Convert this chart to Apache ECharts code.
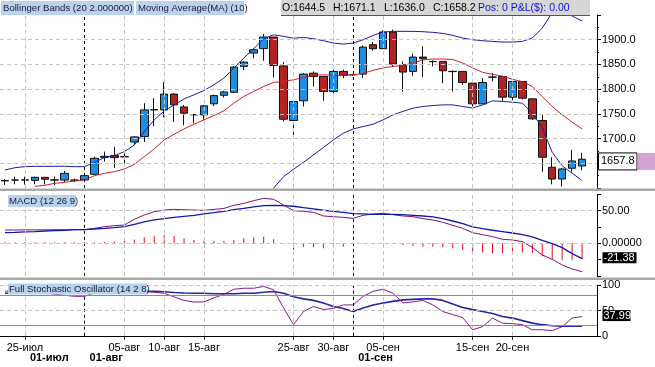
<!DOCTYPE html>
<html><head><meta charset="utf-8">
<script src="https://cdn.jsdelivr.net/npm/echarts@6/dist/echarts.min.js"></script>
<style>html,body{margin:0;padding:0;background:#fff}#c{width:655px;height:367px}</style>
</head><body><div id="c"></div>
<script>
// ---------- data ----------
const dates = ['22-июл','24-июл','25-июл','26-июл','27-июл','28-июл','29-июл','31-июл',
 '01-авг','02-авг','03-авг','04-авг','05-авг','07-авг','08-авг','09-авг','10-авг','11-авг','12-авг',
 '14-авг','15-авг','16-авг','17-авг','18-авг','19-авг','21-авг','22-авг','23-авг','24-авг','25-авг','26-авг',
 '28-авг','29-авг','30-авг','31-авг','01-сен','02-сен','04-сен','05-сен','06-сен','07-сен','08-сен','09-сен',
 '11-сен','12-сен','13-сен','14-сен','15-сен','16-сен','18-сен','19-сен','20-сен','21-сен','22-сен','23-сен',
 '25-сен','26-сен','27-сен','28-сен','29-сен'];
const tickLabels = ['25-июл','05-авг','10-авг','15-авг','25-авг','30-авг','05-сен','15-сен','20-сен'];
const monthAt = ['25-июл','01-авг','01-сен'];
const monthText = ['01-июл','01-авг','01-сен'];
const monthLines = ['01-авг','01-сен'];

const opens = [1615,1616,1616,1615.5,1621.6,1616.5,1616,1616,1616.2,1627.7,
 1662,1665.5,1663,1693,1704,1758,1758,1790,1764,1748.5,
 1748,1770.3,1787.6,1793.6,1846,1873,1882,1905.4,1847,1736.5,
 1776.4,1832.4,1825.7,1795.3,1835.8,1829,1830.4,1889.9,1881.8,1915.5,
 1849.3,1835.8,1864.9,1856,1856.1,1836,1835.8,1812.2,1770.3,1824.5,
 1825.7,1783.8,1815.5,1780.4,1736.5,1641.9,1618.2,1639.9,1644.5];
const closes = [1614.5,1616.2,1616.5,1621.6,1617.6,1616,1629.7,1615.8,1625,1660.1,
 1664.2,1661.5,1663.5,1703.4,1758,1758.5,1790,1768.2,1751.4,1748,
 1766.2,1786.9,1794.3,1844.6,1854.7,1879.7,1905.4,1848,1739.2,1775,
 1830.4,1825.7,1795.3,1835.8,1827.7,1829.5,1885.1,1881.8,1915.5,1850.7,
 1834.5,1864.9,1861.5,1855.5,1837.2,1835.5,1813.5,1770.3,1813.5,1824.3,
 1783.8,1815.5,1781.8,1739.9,1662.2,1618.2,1638.5,1654.7,1658.2];
const highs = [1618,1623,1623,1623,1622,1623,1634.5,1619,1627.7,1663.5,
 1673.6,1683,1670,1705,1771.6,1781.8,1814.2,1792,1768,1749,
 1768,1789,1796.6,1846,1856,1883,1911.5,1905.4,1854.7,1777,
 1832.4,1835.8,1826,1839.2,1839.2,1830.4,1888.5,1895.3,1918.9,1920.3,
 1856,1871.6,1886.5,1858.1,1857,1837.8,1836,1813,1822.3,1832.4,
 1827,1816.9,1816,1781,1749,1662.2,1640,1677,1671.1];
const lows = [1606,1607.4,1607,1607.4,1607,1606,1612,1612,1612,1626.4,
 1653.4,1640.5,1650,1687,1693,1725,1743,1733.8,1727,1731,
 1738,1765.5,1783,1792,1839,1862.8,1857.4,1823.6,1734.5,1704,
 1764.9,1805.4,1776.4,1785.1,1822.3,1827,1822.3,1877.7,1881.8,1846,
 1795,1827,1824.3,1846,1812.2,1795.3,1808.8,1764.9,1770,1815.5,
 1775,1771.6,1779,1737.8,1633.1,1607.4,1602.7,1633.1,1636];

const bbUpper = [1636.5,1641,1643.2,1643.9,1643.9,1643.9,1643.9,1643.2,1643.2,1652,
 1661.5,1665.5,1673.6,1687,1714,1737.8,1756,1768,1780.4,1788.5,
 1797.3,1808.8,1822.3,1842.6,1862.8,1881.8,1902,1910,1906.8,1903,
 1904.7,1902,1898,1893.2,1891.2,1893.2,1900,1908.8,1915.5,1916.9,
 1916.9,1916.9,1916.2,1914.9,1912.8,1908.8,1903.4,1900,1898,1896.6,
 1895.3,1895.3,1896.6,1903.4,1923.6,1955,1960,1948,1938];
const bbLower = [null,null,null,null,null,null,null,null,null,null,
 null,null,null,null,null,null,null,null,null,null,
 null,null,null,null,null,null,1578,1600,1623,1638,
 1652,1666.9,1681.8,1697.3,1710.8,1719.6,1724.3,1729.1,1737.8,1748,
 1755,1761.5,1764.9,1766.9,1768.2,1768.2,1764.9,1762,1768.2,1776.4,
 1775,1773.6,1771.6,1751.4,1722,1672,1645,1630,1615];
const ma10 = [null,null,null,1603.4,1605.4,1609.5,1611.5,1614.2,1616.2,1625,
 1629.7,1633.1,1638.5,1648,1663.5,1679,1697.3,1708.8,1719.6,1729.1,
 1737.8,1746.6,1756.1,1771.6,1785.1,1795.3,1805.4,1813.5,1815.5,1818.9,
 1823.6,1827.7,1829,1827.7,1827.7,1829,1832,1838,1843,1846,
 1848,1853,1859,1861,1861,1860,1853,1843,1834,1830,
 1826,1820,1815,1805.4,1785.1,1764.9,1748,1733.1,1719.6];

const macdLine = [20.4,20.4,20.6,20.6,20.6,20.9,20.9,20.9,20.9,22.9,
 25.5,27,28.1,36.8,43.4,48.5,51,52,51.5,51,
 50.5,52,53.5,58.2,61.2,65.4,69,67.5,58.7,50,
 49,47.5,41.9,40.8,39.8,38.3,42.9,44.9,46,43.9,
 41.9,40.8,37.8,35.8,32.2,27.6,22.9,16.3,13.3,10.2,
 6.1,5.1,2.5,-6.2,-17.9,-24.6,-33.2,-39.4,-43.5];
const macdSignal = [16.3,16.8,17.4,17.9,18.9,19.4,19.9,20.9,20.9,21.9,
 22.9,24,25.5,29.1,32.7,35.8,37.8,39.8,41.4,42.9,
 45,47,49.1,51.7,53.7,55.8,57.8,58.3,57.8,56.8,
 54.7,52.7,50.7,49.1,47.5,45.5,45,44.5,44.5,44.5,
 43.9,42.9,41.9,40.4,37.8,34.2,30.2,25.1,22.5,20,
 17.9,15.8,13.3,9.7,4.6,-0.5,-6.6,-15.8,-23.5];
const macdHist = [1.5,1.5,1.5,1.5,1.5,1.5,1.5,1.5,1.5,1.5,
 2,2.5,4,6,9,11,12.8,11.2,7.7,5.1,
 4.1,4.1,4.1,5.1,7.7,9.2,10.2,6.1,-1.5,-10.2,
 -5.1,-6.1,-7.7,-6.1,-5.1,-1.5,1,0.5,0.5,-1,
 -2.6,-4.1,-5.1,-5.1,-6.1,-7.7,-10.2,-15.3,-14.3,-15.3,
 -15.3,-12.8,-14.3,-15.3,-20.4,-24.5,-25.6,-25.6,-24];

const stochK = [88,90,90,88,85,82,80,78,78,85,
 90,90,88,88,87.7,86,84,77,70,66.7,
 67,75,82,92,94,94,97.6,91,55,22,
 48,58,52,54,61,61,78,88,92,84,
 65,67,70,61,48,42,36,12,18,35,
 25,24,22,12,12,10,18,35,38];
const stochD = [84,85,86,87,88,88,87,86,85,85,
 86,87,88,88,88,87.7,87,85.5,84.5,84,
 84,83,83,83,84,84,86,87.7,84,77,
 73,70,65,58,54,48,55,61,64.8,68,
 71,72,73,73.3,70,63,56,51.7,48,44,
 38,35,30,25,22,20,19,19,19];

const priceLast = 1657.8, macdLast = -21.38, stochLast = 37.99;
const priceGrid = [1650,1700,1750,1800,1850,1900];
const headerParts = ['O:1644.5','H:1671.1','L:1636.0','C:1658.2'];
const headerPos = 'Pos: 0 P&L($): 0.00';

// ---------- chart ----------
const FONT = '"Liberation Sans", Arial, sans-serif';
const chart = echarts.init(document.getElementById('c'), null, {renderer:'canvas'});
const candleData = dates.map((d,i)=> i < opens.length ? [opens[i], closes[i], lows[i], highs[i]] : '-');

const vLines = tickLabels.map(d => ({xAxis: d, lineStyle:{color:'#c4c4c4', type:[4,3], width:1}}))
  .concat(monthLines.map(d => ({xAxis: d, lineStyle:{color:'#000', type:[3,3], width:1}})));
function hLines(vals, style){ return vals.map(v => ({yAxis: v, lineStyle: style})); }
const dashGray = {color:'#c4c4c4', type:[4,3], width:1};
function ml(data){ return {silent:true, symbol:['none','none'], label:{show:false}, animation:false, data:data}; }

const xBase = {type:'category', data:dates, boundaryGap:true, axisLine:{show:false}, axisTick:{show:false}, axisLabel:{show:false}, splitLine:{show:false}};
const yBase = {type:'value', position:'right', scale:false,
  axisLine:{show:true, lineStyle:{color:'#000', width:1}},
  axisTick:{show:true, length:4, lineStyle:{color:'#000'}},
  axisLabel:{color:'#000', fontSize:11, fontFamily:FONT, margin:5},
  splitLine:{show:false}};

const option = {
  animation:false,
  backgroundColor:'#fff',
  grid:[
    {left:0, width:597, top:15, height:173},
    {left:0, width:597, top:194.4, height:81.5},
    {left:0, width:597, top:285.2, height:50.6}
  ],
  xAxis:[
    Object.assign({}, xBase, {gridIndex:0}),
    Object.assign({}, xBase, {gridIndex:1}),
    Object.assign({}, xBase, {gridIndex:2, position:'bottom',
      axisLine:{show:true, lineStyle:{color:'#000', width:1}},
      axisTick:{show:true, alignWithLabel:true, length:4, interval:(i,v)=>tickLabels.includes(v), lineStyle:{color:'#000'}},
      axisLabel:{show:true, interval:(i,v)=>tickLabels.includes(v), color:'#000', fontSize:11, fontFamily:FONT, margin:7}}),
    Object.assign({}, xBase, {gridIndex:2, position:'bottom',
      axisLabel:{show:true, interval:(i,v)=>monthAt.includes(v), formatter:(v)=>monthText[monthAt.indexOf(v)] || '',
        color:'#000', fontSize:11, fontWeight:'bold', fontFamily:FONT, margin:17, align:'left', padding:[0,0,0,5]}})
  ],
  yAxis:[
    Object.assign({}, yBase, {gridIndex:0, min:1600, max:1950, interval:50,
      axisLabel:Object.assign({}, yBase.axisLabel, {formatter:(v)=> (v>=1700 && v<=1900) ? v.toFixed(1) : ''}),
      minorTick:{show:true, splitNumber:2, length:2, lineStyle:{color:'#000'}}}),
    Object.assign({}, yBase, {gridIndex:1, min:-50, max:75, interval:25,
      axisLabel:Object.assign({}, yBase.axisLabel, {formatter:(v)=> v===50 ? '50.00' : (v===0 ? '0.00000' : '')})}),
    Object.assign({}, yBase, {gridIndex:2, min:0, max:100, interval:50,
      axisLabel:Object.assign({}, yBase.axisLabel, {formatter:(v)=> String(v)})})
  ],
  series:[
    {type:'candlestick', xAxisIndex:0, yAxisIndex:0, data:candleData, barWidth:8,
      itemStyle:{color:'#1e8fe0', color0:'#b22222', borderColor:'#111', borderColor0:'#111', borderWidth:1},
      markLine: ml(vLines.concat(hLines(priceGrid, dashGray)))},
    {type:'line', xAxisIndex:0, yAxisIndex:0, data:bbUpper, symbol:'none', lineStyle:{color:'#1c1ca8', width:1}},
    {type:'line', xAxisIndex:0, yAxisIndex:0, data:bbLower, symbol:'none', lineStyle:{color:'#1c1ca8', width:1}},
    {type:'line', xAxisIndex:0, yAxisIndex:0, data:ma10, symbol:'none', lineStyle:{color:'#d0202a', width:1}},
    {type:'bar', xAxisIndex:1, yAxisIndex:1, data:macdHist, barWidth:1, itemStyle:{color:'#e01010'},
      markLine: ml(vLines.concat(hLines([50,0], dashGray)))},
    {type:'line', xAxisIndex:1, yAxisIndex:1, data:macdLine, symbol:'none', lineStyle:{color:'#80107a', width:1}},
    {type:'line', xAxisIndex:1, yAxisIndex:1, data:macdSignal, symbol:'none', lineStyle:{color:'#1515b5', width:1.3}},
    {type:'line', xAxisIndex:2, yAxisIndex:2, data:stochD, symbol:'none', lineStyle:{color:'#2525a5', width:1.6}},
    {type:'line', xAxisIndex:2, yAxisIndex:2, data:stochK, symbol:'none', lineStyle:{color:'#8a1a8a', width:1},
      markLine: ml(vLines.concat(hLines([100,50], dashGray), hLines([80,20], {color:'#8c8c8c', type:'solid', width:1})))}
  ]
};
chart.setOption(option);

// ---------- overlays (labels / value boxes) ----------
const yP = chart.convertToPixel({yAxisIndex:0}, priceLast);
const yM = chart.convertToPixel({yAxisIndex:1}, macdLast);
const yS = chart.convertToPixel({yAxisIndex:2}, stochLast);
function txt(t, x, y, opt){ return Object.assign({type:'text', z:100, style:Object.assign({text:t, x:x, y:y, fontFamily:FONT, fontSize:11, fill:'#000', verticalAlign:'middle', align:'left'}, opt||{})}); }
function rect(x,y,w,h,fill,stroke){ return {type:'rect', z:99, shape:{x:x,y:y,width:w,height:h}, style:{fill:fill, stroke:stroke||null, lineWidth:1}}; }
const LB = '#b9d3ee';
const hx = [282,333,384,433];
const graphics = [
  rect(0,188.5,655,2.5,'#a9a9a9'),
  rect(0,277.5,655,2.5,'#a9a9a9'),
  rect(1,1,133,14,LB), txt('Bollinger Bands (20 2.000000)',3,8.5,{fontSize:9.6, fill:'#1a1a3a'}),
  rect(136,1,108,14,LB), txt('Moving Average(MA) (10)',138,8.5,{fontSize:9.6, fill:'#1a1a3a'}),
  rect(281,0,309,15.5,'#d6d6d6'),
  {type:'line', z:100, shape:{x1:281,y1:15.5,x2:590,y2:15.5}, style:{stroke:'#555', lineWidth:1}}
].concat(headerParts.map((t,k)=>txt(t,hx[k],8,{fontSize:10.5})), [
  txt(headerPos,478,8,{fontSize:10.5, fill:'#1010e0'}),
  rect(8,195,68,12,LB), txt('MACD (12 26 9)',9,201,{fontSize:9.6, fill:'#1a1a3a'}),
  rect(8,283.5,139,11,LB), txt('Full Stochastic Oscillator (14 2 8)',9,289,{fontSize:9.6, fill:'#1a1a3a'}),
  rect(598.5,yP-6.5,38.5,17,'#fff','#000'), rect(637.5,yP-6.5,17.5,17,'#d4a2d4'),
  txt(String(priceLast.toFixed(1)),601,yP+2,{fontSize:11}),
  rect(602.5,yM-5,34,11,'#000'), txt(String(macdLast),603.5,yM+0.5,{fontSize:11, fill:'#fff'}),
  rect(602.5,yS-6.5,28,11,'#000'), txt(String(stochLast),603.5,yS-1,{fontSize:11, fill:'#fff'})
]);
chart.setOption({graphic: graphics});
</script></body></html>
